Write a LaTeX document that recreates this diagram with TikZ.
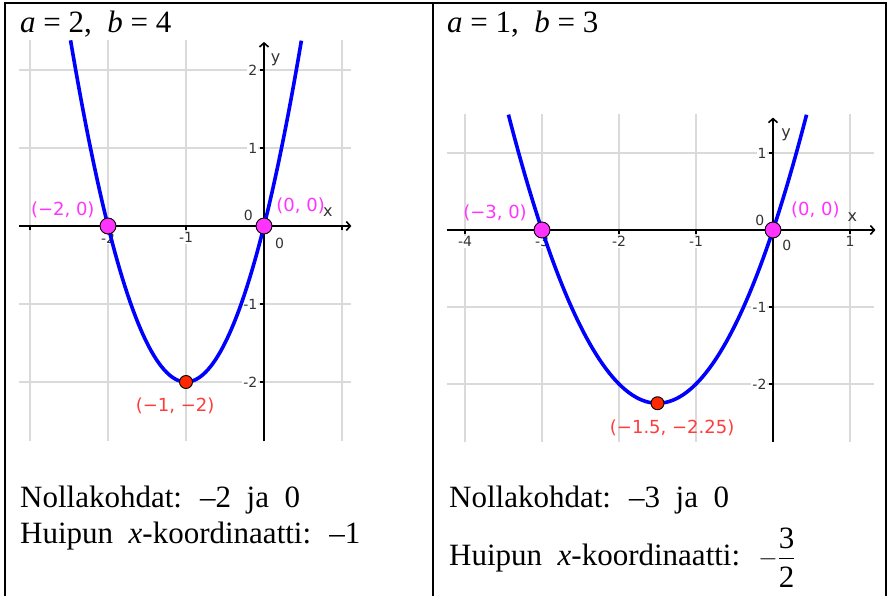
\documentclass[tikz,border=0pt]{standalone}
\usepackage{amsmath}
\usepackage{fontspec}
\setmainfont{Liberation Serif}
\newfontfamily\ggbfont{DejaVu Sans}
\usetikzlibrary{arrows.meta}

\definecolor{ggbgrid}{RGB}{218,218,218}
\definecolor{ggbblue}{RGB}{0,0,255}
\definecolor{ggbpink}{RGB}{255,51,255}
\definecolor{ggbred}{RGB}{255,40,0}
\definecolor{ggbtext}{RGB}{255,60,60}

\begin{document}
\begin{tikzpicture}[x=1pt, y=-1pt,
        frame/.style={line width=2.6pt},
        gridline/.style={ggbgrid, line width=1.4pt},
        axis/.style={line width=1.6pt, -{Straight Barb[length=4pt,width=9pt]}},
        curve/.style={ggbblue, line width=3.6pt},
        tick/.style={font=\ggbfont\fontsize{14}{14}\selectfont, text=black!80, fill=white, inner sep=1pt},
        axlbl/.style={font=\ggbfont\fontsize{16}{16}\selectfont, text=black!80, inner sep=0pt},
        zero/.style={circle, draw=black, fill=ggbpink, line width=0.9pt, minimum size=16pt, inner sep=0pt},
        vertex/.style={circle, draw=black, fill=ggbred, line width=0.9pt, minimum size=13pt, inner sep=0pt},
        ptlbl/.style={font=\ggbfont\fontsize{18}{18}\selectfont, inner sep=0pt},
        title/.style={anchor=base west, inner sep=0pt, font=\fontsize{31}{36}\selectfont},
        txt/.style={anchor=base west, inner sep=0pt, font=\fontsize{31}{36}\selectfont}
    ]
    \useasboundingbox (0,0) rectangle (889,596);

    % frame
    \draw[frame] (5,596) -- (5,3) -- (886,3) -- (886,596);
    \draw[frame] (433,3) -- (433,596);

    % left: a = 2, b = 4
    \node[title] (ttlA) at (20,33) {\textit{a} = 2,\ \ \textit{b} = 4};
    \begin{scope}[shift={(264,226)}, x=78pt, y=78pt]
        \foreach \g in {-3,-2,-1,1} \draw[gridline] (\g,-2.76) -- (\g,2.38);
        \foreach \g in {-2,-1,1,2} \draw[gridline] (-3.14,\g) -- (1.12,\g);
        \foreach \v/\t in {2/2,1/1,-1/-1,-2/-2}
            \node[tick, anchor=east] (yA\v) at (-0.07,\v) {\t};
        \foreach \v/\t in {-1/-1,-2/-2}
            \node[tick, anchor=north] (xA\v) at (\v,-0.07) {\t};
        \node[tick] (oA1) at (0.2,-0.22) {0};
        \node[tick] (oA2) at (-0.2,0.14) {0};
        \node[axlbl] (xlblA) at (0.82,0.18) {x};
        \node[axlbl] (ylblA) at (0.15,2.13) {y};
        \coordinate (xA0) at (-3.14,0);
        \coordinate (xA1) at (1.12,0);
        \coordinate (yA0) at (0,-2.76);
        \coordinate (yA1) at (0,2.36);
        \draw[axis] (xA0) -- (xA1);
        \draw[axis] (yA0) -- (yA1);
        \foreach \t in {-3,-2,-1,1} \draw[line width=1.2pt] (\t,0) -- (\t,-0.05);
        \foreach \t in {-2,-1,1,2} \draw[line width=1.2pt] (0,\t) -- (-0.05,\t);
        \draw[curve] plot[domain=-2.48:0.48, samples=90] (\x, {2*\x*\x+4*\x});
        \node[zero] (pA1) at (-2,0) {};
        \node[zero] (pA2) at (0,0) {};
        \node[vertex] (vA) at (-1,-2) {};
        \node[ptlbl, text=ggbpink] (lA1) at (-2.58,0.21) {(−2, 0)};
        \node[ptlbl, text=ggbpink] (lA2) at (0.47,0.26) {(0, 0)};
        \node[ptlbl, text=ggbtext] (lvA) at (-1.14,-2.31) {(−1, −2)};
    \end{scope}
    \node[txt] (nollaA) at (20,507) {Nollakohdat:~ –2~ ja~ 0};
    \node[txt] (huippuA) at (20,543) {Huipun~ \textit{x}-koordinaatti:~ –1};

    % right: a = 1, b = 3
    \node[title] (ttlB) at (447,33) {\textit{a} = 1,\ \ \textit{b} = 3};
    \begin{scope}[shift={(773,230)}, x=77pt, y=77pt]
        \foreach \g in {-4,-3,-2,-1,1} \draw[gridline] (\g,-2.75) -- (\g,1.51);
        \foreach \g in {-2,-1,1} \draw[gridline] (-4.23,\g) -- (1.31,\g);
        \foreach \v/\t in {1/1,-1/-1,-2/-2}
            \node[tick, anchor=east] (yB\v) at (-0.07,\v) {\t};
        \foreach \v/\t in {-4/-4,-3/-3,-2/-2,-1/-1,1/1}
            \node[tick, anchor=north] (xB\v) at (\v,-0.07) {\t};
        \node[tick] (oB1) at (0.18,-0.2) {0};
        \node[tick] (oB2) at (-0.17,0.13) {0};
        \node[axlbl] (xlblB) at (1.03,0.17) {x};
        \node[axlbl] (ylblB) at (0.17,1.23) {y};
        \coordinate (xB0) at (-4.23,0);
        \coordinate (xB1) at (1.33,0);
        \coordinate (yB0) at (0,-2.75);
        \coordinate (yB1) at (0,1.46);
        \draw[axis] (xB0) -- (xB1);
        \draw[axis] (yB0) -- (yB1);
        \foreach \t in {-4,-3,-2,-1,1} \draw[line width=1.2pt] (\t,0) -- (\t,-0.05);
        \foreach \t in {-2,-1,1} \draw[line width=1.2pt] (0,\t) -- (-0.05,\t);
        \draw[curve] plot[domain=-3.436:0.436, samples=90] (\x, {\x*\x+3*\x});
        \node[zero] (pB1) at (-3,0) {};
        \node[zero] (pB2) at (0,0) {};
        \node[vertex] (vB) at (-1.5,-2.25) {};
        \node[ptlbl, text=ggbpink] (lB1) at (-3.61,0.22) {(−3, 0)};
        \node[ptlbl, text=ggbpink] (lB2) at (0.55,0.26) {(0, 0)};
        \node[ptlbl, text=ggbtext] (lvB) at (-1.31,-2.57) {(−1.5, −2.25)};
    \end{scope}
    \node[txt] (nollaB) at (449,507) {Nollakohdat:~ –3~ ja~ 0};
    \node[txt] (huippuB) at (449,565) {Huipun~ \textit{x}-koordinaatti:~ $-\dfrac{\text{3}}{\rule{0pt}{0.82em}\text{2}}$};
\end{tikzpicture}
\end{document}
